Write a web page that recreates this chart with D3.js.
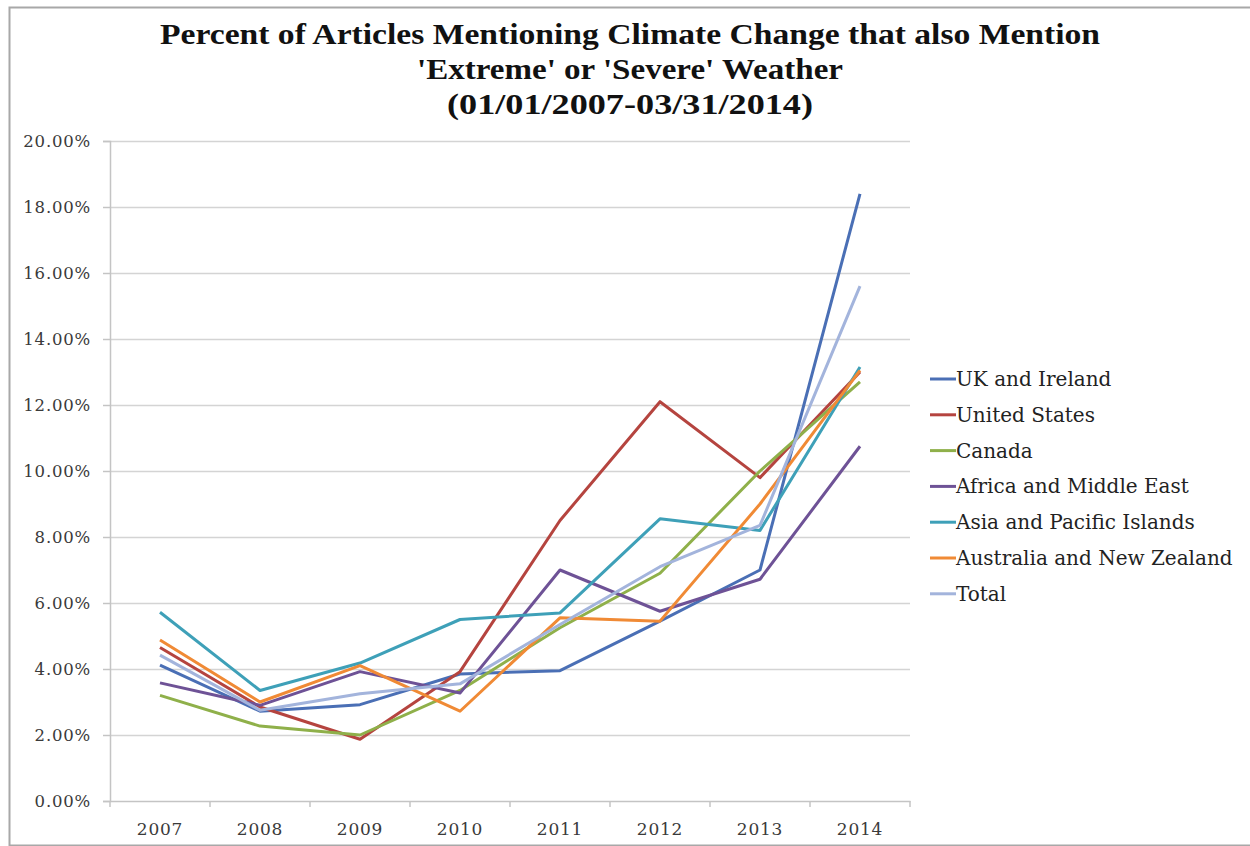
<!DOCTYPE html>
<html>
<head>
<meta charset="utf-8">
<script src="https://cdn.jsdelivr.net/npm/d3@7"></script>
<style>
  html, body { margin: 0; padding: 0; background: #fff; }
  svg { display: block; }
</style>
</head>
<body>
<svg id="chart" width="1250" height="846"></svg>
<script>
// Years on the x axis
const years = ["2007", "2008", "2009", "2010", "2011", "2012", "2013", "2014"];

// Share of climate-change articles that also mention extreme/severe weather (%)
const ukIreland      = [4.12, 2.72, 2.92, 3.85, 3.95, 5.45, 7.00, 18.40];
const unitedStates   = [4.65, 2.85, 1.87, 3.92, 8.50, 12.10, 9.80, 13.00];
const canada         = [3.20, 2.27, 2.00, 3.35, 5.25, 6.90, 10.00, 12.70];
const africaMidEast  = [3.58, 2.90, 3.92, 3.27, 7.00, 5.75, 6.72, 10.75];
const asiaPacific    = [5.72, 3.35, 4.18, 5.50, 5.70, 8.55, 8.20, 13.15];
const australiaNZ    = [4.88, 3.00, 4.10, 2.72, 5.55, 5.45, 9.00, 13.05];
const total          = [4.42, 2.75, 3.25, 3.55, 5.35, 7.10, 8.35, 15.60];

const seriesNames = ["UK and Ireland", "United States", "Canada", "Africa and Middle East",
                     "Asia and Pacific Islands", "Australia and New Zealand", "Total"];
const seriesValues = [ukIreland, unitedStates, canada, africaMidEast, asiaPacific, australiaNZ, total];
const seriesColors = ["#4a6fb5", "#b5443f", "#8fb04a", "#6e5296", "#3ea0b8", "#f08a35", "#a3b4dc"];

const yTicks = [0, 2, 4, 6, 8, 10, 12, 14, 16, 18, 20];

const svg = d3.select("#chart");
const serif = "Georgia, 'DejaVu Serif', serif";

// Outer frame
svg.append("path")
  .attr("d", "M1250,7.5 H9.5 V845.5 H1250")
  .attr("fill", "none").attr("stroke", "#a8a8a8").attr("stroke-width", 2);

const plot = { left: 110, right: 910, top: 141, bottom: 801 };

const x = d3.scaleBand().domain(years).range([plot.left, plot.right]);
const y = d3.scaleLinear().domain([0, 20]).range([plot.bottom, plot.top]);

// Title
const titleLines = ["Percent of Articles Mentioning Climate Change that also Mention",
                    "'Extreme' or 'Severe' Weather",
                    "(01/01/2007-03/31/2014)"];
svg.append("g").selectAll("text").data(titleLines).join("text")
  .attr("x", 630).attr("y", (d, i) => 44 + i * 35)
  .attr("text-anchor", "middle")
  .attr("font-family", "'Liberation Serif', 'Times New Roman', serif")
  .attr("font-weight", "bold")
  .attr("font-size", 30)
  .attr("fill", "#111")
  .attr("textLength", (d, i) => [940, 426, 366][i])
  .attr("lengthAdjust", "spacingAndGlyphs")
  .text(d => d);

// Horizontal gridlines
svg.append("g").selectAll("line").data(yTicks.filter(t => t > 0)).join("line")
  .attr("x1", plot.left).attr("x2", plot.right)
  .attr("y1", d => y(d) + 0.5).attr("y2", d => y(d) + 0.5)
  .attr("stroke", "#d4d4d4").attr("stroke-width", 1.5);

// Y axis
const yAxis = svg.append("g")
  .attr("transform", `translate(${plot.left},0)`)
  .call(d3.axisLeft(y).tickValues(yTicks).tickSize(7).tickPadding(12)
        .tickFormat(d => d.toFixed(2) + "%"));
yAxis.select(".domain").attr("stroke", "#c4c4c4").attr("stroke-width", 1.5);
yAxis.selectAll(".tick line").attr("stroke", "#c4c4c4").attr("stroke-width", 1.5);
yAxis.selectAll(".tick text")
  .attr("font-family", serif).attr("font-size", 16.5).attr("letter-spacing", 0.8)
  .attr("fill", "#3a3a3a");

// X axis
const xAxis = svg.append("g")
  .attr("transform", `translate(0,${plot.bottom})`)
  .call(d3.axisBottom(x).tickSize(0).tickPadding(22));
xAxis.select(".domain").attr("stroke", "#c4c4c4").attr("stroke-width", 1.5);
xAxis.selectAll(".tick text")
  .attr("font-family", serif).attr("font-size", 17).attr("letter-spacing", 0.8)
  .attr("fill", "#3a3a3a");
// Tick marks between categories
svg.append("g").selectAll("line").data(years.concat(["end"])).join("line")
  .attr("x1", (d, i) => plot.left + i * x.step()).attr("x2", (d, i) => plot.left + i * x.step())
  .attr("y1", plot.bottom).attr("y2", plot.bottom + 6)
  .attr("stroke", "#c4c4c4").attr("stroke-width", 1.5);

// Series lines
const line = d3.line()
  .x((d, i) => x(years[i]) + x.bandwidth() / 2)
  .y(d => y(d));

svg.append("g").selectAll("path").data(seriesValues).join("path")
  .attr("d", d => line(d))
  .attr("fill", "none")
  .attr("stroke", (d, i) => seriesColors[i])
  .attr("stroke-width", 3)
  .attr("stroke-linejoin", "round");

// Legend
const legend = svg.append("g").attr("transform", "translate(930,379)");
const rows = legend.selectAll("g").data(seriesNames).join("g")
  .attr("transform", (d, i) => `translate(0,${i * 35.8})`);
rows.append("line")
  .attr("x1", 0).attr("x2", 26).attr("y1", 0).attr("y2", 0)
  .attr("stroke", (d, i) => seriesColors[i]).attr("stroke-width", 3);
rows.append("text")
  .attr("x", 26).attr("y", 7)
  .attr("font-family", serif).attr("font-size", 20).attr("fill", "#222")
  .text(d => d);
</script>
</body>
</html>
